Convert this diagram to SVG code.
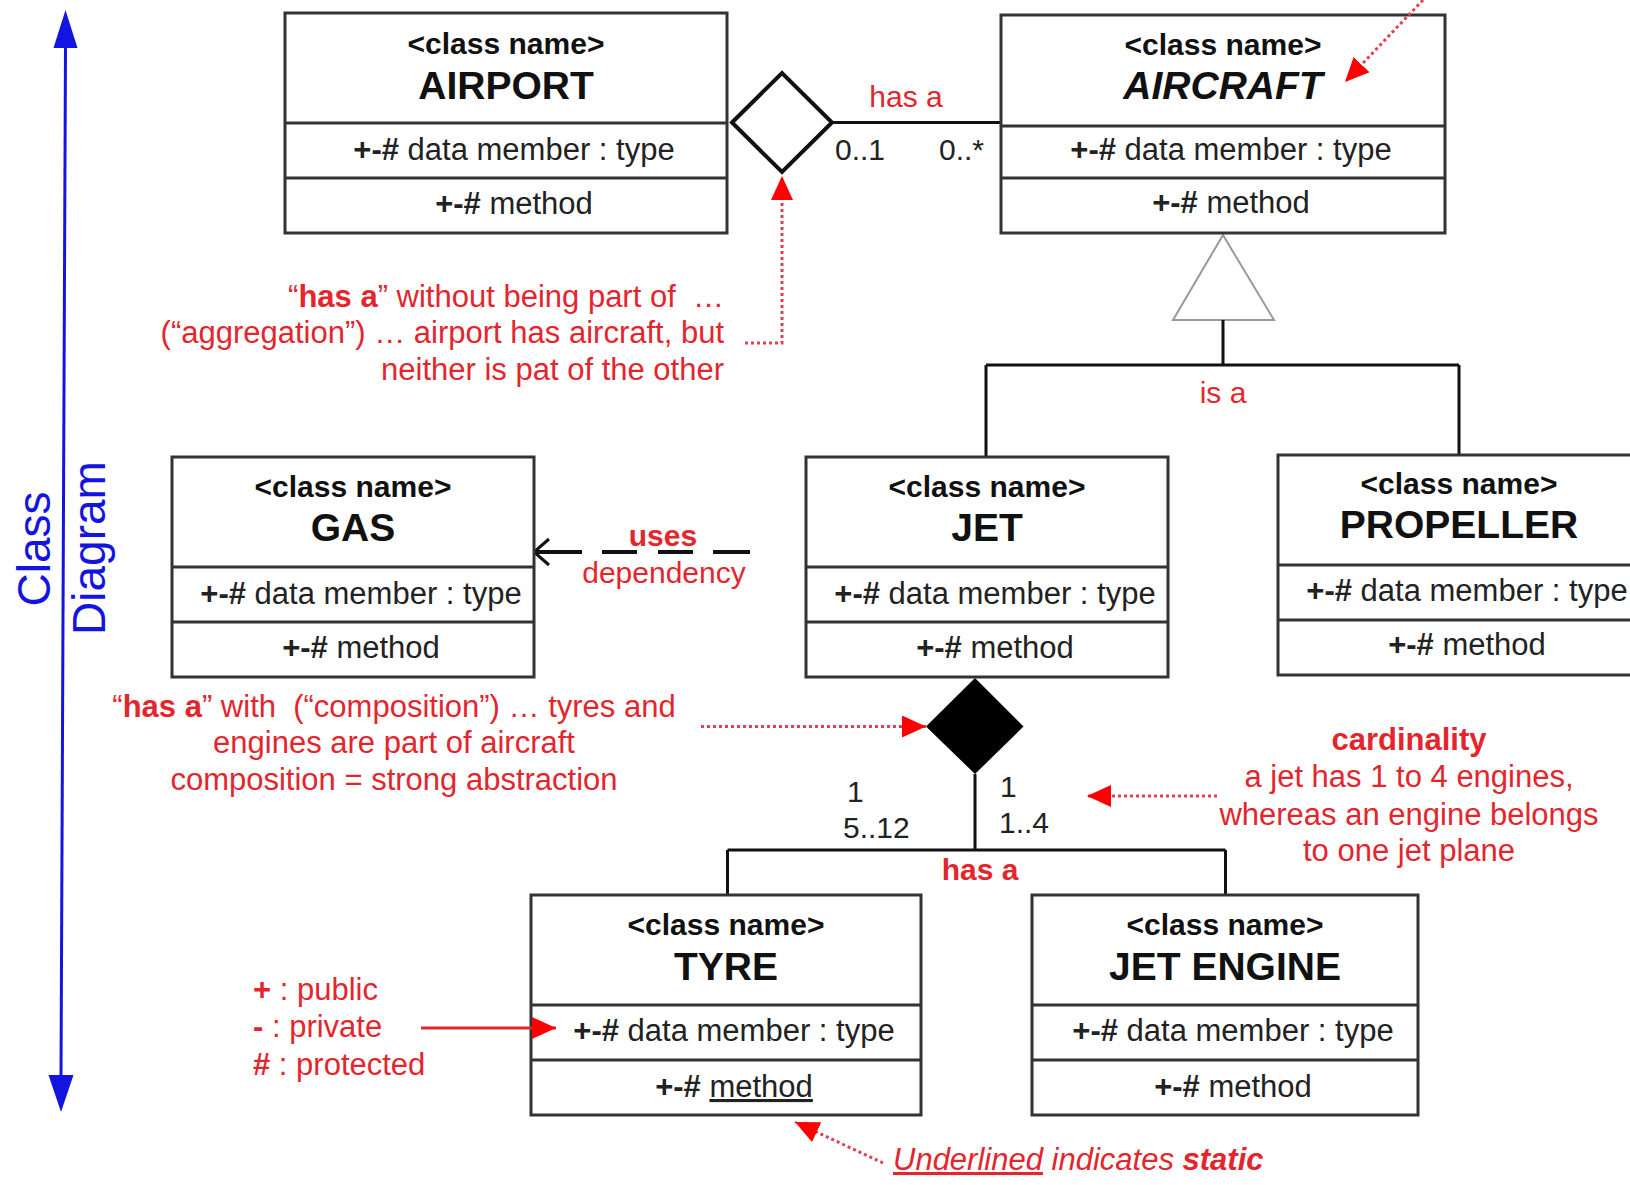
<svg xmlns="http://www.w3.org/2000/svg" width="1630" height="1185" viewBox="0 0 1630 1185">
  <style>
    text { font-family: "Liberation Sans", Arial, Helvetica, sans-serif; }
    .box { fill: #fff; stroke: #333; stroke-width: 3; }
    .div { stroke: #333; stroke-width: 3; }
    .stereo { font-size: 30px; font-weight: bold; fill: #111; text-anchor: middle; }
    .cname { font-size: 39px; font-weight: bold; fill: #111; text-anchor: middle; }
    .mem { font-size: 31px; fill: #222; text-anchor: middle; }
    .b { font-weight: bold; }
    .note { font-size: 31px; fill: #e3262d; }
    .lbl { font-size: 30px; fill: #e3262d; }
    .mult { font-size: 30px; fill: #222; }
    .conn { stroke: #111; stroke-width: 3; fill: none; }
    .dot { stroke: #e0404f; stroke-width: 3; stroke-dasharray: 3 3; fill: none; }
    .axis { stroke: #1414e0; stroke-width: 3; fill: none; }
  </style>
  <defs>
    <marker id="redHead" viewBox="0 0 24 22" refX="24" refY="11" markerWidth="24" markerHeight="22" orient="auto" markerUnits="userSpaceOnUse">
      <path d="M0,0 L24,11 L0,22 Z" fill="#f00"/>
    </marker>
  </defs>

  <rect width="1630" height="1185" fill="#fff"/>

  <!-- vertical axis label -->
  <g id="axis">
    <path class="axis" d="M65.5,46 L61,1078"/>
    <path d="M65.5,10 L53.5,48 L77.5,48 Z" fill="#1414e0"/>
    <path d="M61,1112 L48.5,1075 L73.5,1075 Z" fill="#1414e0"/>
    <text transform="translate(50,549) rotate(-90)" text-anchor="middle" font-size="46" fill="#1414e0">Class</text>
    <text transform="translate(105,548) rotate(-90)" text-anchor="middle" font-size="46" fill="#1414e0">Diagram</text>
  </g>

  <!-- connectors -->
  <g id="connectors">
    <!-- aggregation: airport has aircraft -->
    <path class="conn" d="M832,122.5 H1001"/>
    <polygon points="732,122.5 782,73 832,122.5 782,172" fill="#fff" stroke="#111" stroke-width="4"/>
    <text class="lbl" x="906" y="107" text-anchor="middle">has a</text>
    <text class="mult" x="835" y="160">0..1</text>
    <text class="mult" x="939" y="160">0..*</text>

    <!-- generalization: jet / propeller is an aircraft -->
    <polygon points="1223,235 1173,320 1274,320" fill="#fff" stroke="#999" stroke-width="2"/>
    <path class="conn" d="M1223,320 V365 M986,365 H1459 M986,365 V457 M1459,365 V455"/>
    <text class="lbl" x="1223" y="403" text-anchor="middle">is a</text>

    <!-- dependency: jet uses gas -->
    <path d="M750,552 H713 M693,552 H658 M637,552 H602 M582,552 H535" stroke="#111" stroke-width="4" fill="none"/>
    <path d="M549,539 L534,552 L549,565" stroke="#111" stroke-width="3" fill="none"/>
    <text class="lbl b" x="663" y="546" text-anchor="middle">uses</text>
    <text class="lbl" x="664" y="583" text-anchor="middle">dependency</text>

    <!-- composition: jet has tyres and engines -->
    <polygon points="975,678 1023.5,726.5 975,774 926,726.5" fill="#000"/>
    <path class="conn" d="M975,774 V850 M727.5,850 H1225.5 M727.5,850 V895 M1225.5,850 V895"/>
    <text class="mult" x="847" y="802">1</text>
    <text class="mult" x="843" y="838">5..12</text>
    <text class="mult" x="1000" y="797">1</text>
    <text class="mult" x="999" y="833">1..4</text>
    <text class="lbl b" x="980" y="880" text-anchor="middle">has a</text>
  </g>

  <!-- classes -->
  <g id="airport" transform="translate(285,13)">
    <rect class="box" width="442" height="220"/>
    <path class="div" d="M0,110 H442 M0,165 H442"/>
    <text class="stereo" x="221" y="41">&lt;class name&gt;</text>
    <text class="cname" x="221" y="86">AIRPORT</text>
    <text class="mem" x="229" y="147"><tspan class="b">+-#</tspan> data member : type</text>
    <text class="mem" x="229" y="201"><tspan class="b">+-#</tspan> method</text>
  </g>

  <g id="aircraft" transform="translate(1001,15)">
    <rect class="box" width="444" height="218"/>
    <path class="div" d="M0,111 H444 M0,163 H444"/>
    <text class="stereo" x="222" y="40">&lt;class name&gt;</text>
    <text class="cname" x="222" y="84" font-style="italic">AIRCRAFT</text>
    <text class="mem" x="230" y="145"><tspan class="b">+-#</tspan> data member : type</text>
    <text class="mem" x="230" y="198"><tspan class="b">+-#</tspan> method</text>
  </g>

  <g id="gas" transform="translate(172,457)">
    <rect class="box" width="362" height="220"/>
    <path class="div" d="M0,110 H362 M0,165 H362"/>
    <text class="stereo" x="181" y="40">&lt;class name&gt;</text>
    <text class="cname" x="181" y="84">GAS</text>
    <text class="mem" x="189" y="147"><tspan class="b">+-#</tspan> data member : type</text>
    <text class="mem" x="189" y="201"><tspan class="b">+-#</tspan> method</text>
  </g>

  <g id="jet" transform="translate(806,457)">
    <rect class="box" width="362" height="220"/>
    <path class="div" d="M0,110 H362 M0,165 H362"/>
    <text class="stereo" x="181" y="40">&lt;class name&gt;</text>
    <text class="cname" x="181" y="84">JET</text>
    <text class="mem" x="189" y="147"><tspan class="b">+-#</tspan> data member : type</text>
    <text class="mem" x="189" y="201"><tspan class="b">+-#</tspan> method</text>
  </g>

  <g id="propeller" transform="translate(1278,455)">
    <rect class="box" width="362" height="220"/>
    <path class="div" d="M0,110 H362 M0,165 H362"/>
    <text class="stereo" x="181" y="39">&lt;class name&gt;</text>
    <text class="cname" x="181" y="83">PROPELLER</text>
    <text class="mem" x="189" y="146"><tspan class="b">+-#</tspan> data member : type</text>
    <text class="mem" x="189" y="200"><tspan class="b">+-#</tspan> method</text>
  </g>

  <g id="tyre" transform="translate(531,895)">
    <rect class="box" width="390" height="220"/>
    <path class="div" d="M0,110 H390 M0,165 H390"/>
    <text class="stereo" x="195" y="40">&lt;class name&gt;</text>
    <text class="cname" x="195" y="85">TYRE</text>
    <text class="mem" x="203" y="146"><tspan class="b">+-#</tspan> data member : type</text>
    <text class="mem" x="203" y="202"><tspan class="b">+-#</tspan> <tspan text-decoration="underline">method</tspan></text>
  </g>

  <g id="jet-engine" transform="translate(1032,895)">
    <rect class="box" width="386" height="220"/>
    <path class="div" d="M0,110 H386 M0,165 H386"/>
    <text class="stereo" x="193" y="40">&lt;class name&gt;</text>
    <text class="cname" x="193" y="85">JET ENGINE</text>
    <text class="mem" x="201" y="146"><tspan class="b">+-#</tspan> data member : type</text>
    <text class="mem" x="201" y="202"><tspan class="b">+-#</tspan> method</text>
  </g>

  <!-- explanatory notes and their pointers -->
  <g id="notes">
    <!-- abstract class pointer -->
    <path class="dot" d="M1423,0 L1345,82" marker-end="url(#redHead)"/>

    <!-- aggregation note -->
    <path class="dot" d="M745,343 H782 V176" marker-end="url(#redHead)"/>
    <text class="note" x="724" y="307" text-anchor="end">“<tspan class="b">has a</tspan>” without being part of&#160; …</text>
    <text class="note" x="724" y="343" text-anchor="end">(“aggregation”) … airport has aircraft, but</text>
    <text class="note" x="724" y="380" text-anchor="end">neither is pat of the other</text>

    <!-- composition note -->
    <path class="dot" d="M701,726.5 H926" marker-end="url(#redHead)"/>
    <text class="note" x="394" y="717" text-anchor="middle">“<tspan class="b">has a</tspan>” with&#160; (“composition”) … tyres and</text>
    <text class="note" x="394" y="753" text-anchor="middle">engines are part of aircraft</text>
    <text class="note" x="394" y="790" text-anchor="middle">composition = strong abstraction</text>

    <!-- cardinality note -->
    <path class="dot" d="M1217,796 H1087" marker-end="url(#redHead)"/>
    <text class="note b" x="1409" y="750" text-anchor="middle">cardinality</text>
    <text class="note" x="1409" y="787" text-anchor="middle">a jet has 1 to 4 engines,</text>
    <text class="note" x="1409" y="825" text-anchor="middle">whereas an engine belongs</text>
    <text class="note" x="1409" y="861" text-anchor="middle">to one jet plane</text>

    <!-- visibility legend -->
    <path d="M421,1028 H556" stroke="#e3262d" stroke-width="3" fill="none" marker-end="url(#redHead)"/>
    <text class="note" x="253" y="1000"><tspan class="b">+</tspan> : public</text>
    <text class="note" x="253" y="1037"><tspan class="b">-</tspan> : private</text>
    <text class="note" x="253" y="1075"><tspan class="b">#</tspan> : protected</text>

    <!-- static note -->
    <path class="dot" d="M883,1163 L795,1122" marker-end="url(#redHead)"/>
    <text class="note" x="893" y="1170" font-style="italic"><tspan text-decoration="underline">Underlined</tspan> indicates <tspan class="b">static</tspan></text>
  </g>
</svg>
